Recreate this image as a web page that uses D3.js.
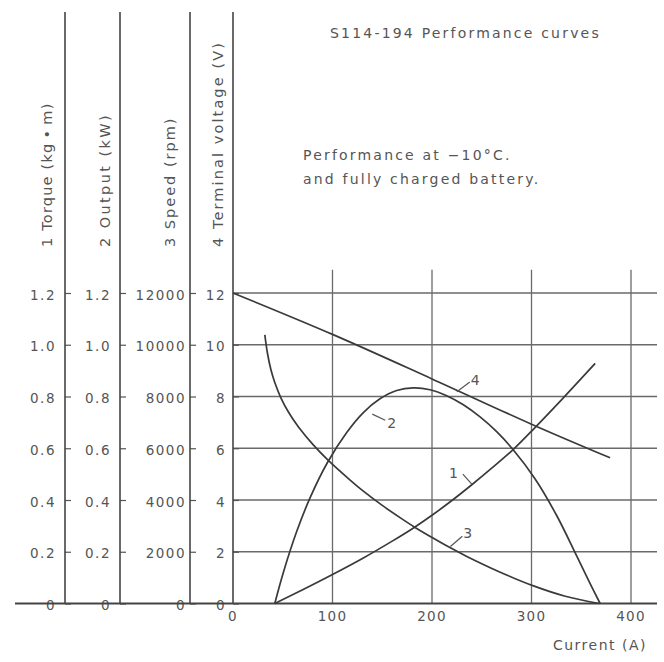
<!DOCTYPE html>
<html>
<head>
<meta charset="utf-8">
<script src="https://cdn.jsdelivr.net/npm/d3@7"></script>
<style>
  body { margin: 0; background: #fff; }
  svg text { font-family: 'DejaVu Sans', sans-serif; fill: #555; }
</style>
</head>
<body>
<svg id="chart" width="664" height="662"></svg>
<script>
// ========= Data ========= //
const currentTicks = [0, 100, 200, 300, 400];
const torqueTicks = [0, 0.2, 0.4, 0.6, 0.8, 1.0, 1.2];
const outputTicks = [0, 0.2, 0.4, 0.6, 0.8, 1.0, 1.2];
const speedTicks = [0, 2000, 4000, 6000, 8000, 10000, 12000];
const voltageTicks = [0, 2, 4, 6, 8, 10, 12];

// [current (A), value]
const torqueCurve = [[42, 0], [70, 0.053], [100, 0.112], [131, 0.176], [160, 0.241], [181, 0.291],
  [200, 0.341], [220, 0.398], [240, 0.459], [260, 0.523], [281, 0.593], [303.5, 0.68],
  [332, 0.795], [364, 0.928]];
const outputCurve = [[42, 0], [50.6, 0.12], [64, 0.278], [77.4, 0.408], [94.8, 0.544], [114.3, 0.661],
  [131, 0.738], [147.7, 0.791], [164.5, 0.823], [181.2, 0.833], [198, 0.826], [214.8, 0.803],
  [231.5, 0.768], [248, 0.722], [265, 0.664], [281, 0.597], [303.5, 0.482], [325.3, 0.34],
  [345.4, 0.184], [358.8, 0.078], [369, 0]];
const speedCurve = [[32, 10380], [34.5, 9700], [38, 9050], [42, 8540], [48, 7960], [56, 7380],
  [66, 6810], [80, 6160], [95, 5560], [118, 4760], [131, 4340], [150, 3790], [169, 3290],
  [183, 2940], [201, 2530], [218, 2160], [235, 1820], [268, 1220], [302, 680], [334, 280], [368, 0]];
const voltageCurve = [[0, 12], [100, 10.4], [200, 8.68], [300, 6.93], [379, 5.63]];

// callouts in current (A) / grid units (0-12)
const callouts = [
  { text: '4', from: [225, 8.18], to: [238, 8.56], at: [243.5, 8.45] },
  { text: '2', from: [140, 7.32], to: [153, 7.08], at: [159.5, 6.8] },
  { text: '1', from: [240, 4.61], to: [231, 5.0], at: [221.5, 4.85] },
  { text: '3', from: [218.5, 2.2], to: [230.5, 2.6], at: [236, 2.55] }
];

const svg = d3.select('#chart');

// ========= Scales ========= //
const x = d3.scaleLinear().domain([0, 400]).range([233, 631]);
const yRange = [603.5, 293];
const yGrid = d3.scaleLinear().domain([0, 12]).range(yRange);
const yTorque = d3.scaleLinear().domain([0, 1.2]).range(yRange);
const yOutput = d3.scaleLinear().domain([0, 1.2]).range(yRange);
const ySpeed = d3.scaleLinear().domain([0, 12000]).range(yRange);
const yVolt = d3.scaleLinear().domain([0, 12]).range(yRange);

// ========= Grid ========= //
const grid = svg.append('g').attr('stroke', '#6a6a6a').attr('stroke-width', 1.3);
grid.selectAll('.hgrid')
  .data(voltageTicks.slice(1))
  .join('line')
    .attr('x1', x(0)).attr('x2', 657)
    .attr('y1', d => yVolt(d)).attr('y2', d => yVolt(d));
grid.selectAll('.vgrid')
  .data(currentTicks.slice(1))
  .join('line')
    .attr('x1', d => x(d)).attr('x2', d => x(d))
    .attr('y1', yGrid(0)).attr('y2', yGrid(12.9));

// ========= Left axes ========= //
const decimal = d => d === 0 ? '0' : d3.format('.1f')(d);
const axes = [
  { scale: yTorque, ticks: torqueTicks, xPos: 65, pad: 9, fmt: decimal,
    label: '1 Torque (kg\u2009\u2022\u2009m)', lx: 52, ls: 1.2 },
  { scale: yOutput, ticks: outputTicks, xPos: 120, pad: 9, fmt: decimal,
    label: '2 Output (kW)', lx: 110, ls: 2.4 },
  { scale: ySpeed, ticks: speedTicks, xPos: 190, pad: 4, fmt: d => String(d),
    label: '3 Speed (rpm)', lx: 175, ls: 2 },
  { scale: yVolt, ticks: voltageTicks, xPos: x(0), pad: 7, fmt: d => String(d),
    label: '4 Terminal voltage (V)', lx: 223, ls: 2.1 }
];

axes.forEach(a => {
  const g = svg.append('g').attr('transform', `translate(${a.xPos},0)`);
  g.call(d3.axisLeft(a.scale).tickValues(a.ticks).tickFormat(a.fmt)
    .tickSizeInner(-6).tickSizeOuter(0).tickPadding(a.pad));
  g.select('.domain').remove();
  g.selectAll('.tick line').attr('stroke', '#555').attr('stroke-width', 1.2);
  g.selectAll('.tick text')
    .attr('font-size', 13.5).attr('letter-spacing', 1.5)
    .attr('font-family', 'DejaVu Sans').attr('fill', '#555')
    .attr('dy', '0.45em');
  svg.append('line')
    .attr('x1', a.xPos).attr('x2', a.xPos)
    .attr('y1', 12).attr('y2', yRange[0])
    .attr('stroke', '#444').attr('stroke-width', 1.6);
  svg.append('text')
    .attr('transform', `translate(${a.lx},247) rotate(-90)`)
    .attr('font-size', 14.5).attr('letter-spacing', a.ls)
    .text(a.label);
});

// baseline
svg.append('line')
  .attr('x1', 15).attr('x2', 657)
  .attr('y1', yRange[0]).attr('y2', yRange[0])
  .attr('stroke', '#444').attr('stroke-width', 1.8);

// ========= X axis labels ========= //
svg.append('g')
  .selectAll('text')
  .data(currentTicks)
  .join('text')
    .attr('x', d => x(d))
    .attr('y', 621)
    .attr('text-anchor', 'middle')
    .attr('font-size', 13.5).attr('letter-spacing', 1.2)
    .text(d => d);

svg.append('text')
  .attr('x', 647).attr('y', 650)
  .attr('text-anchor', 'end')
  .attr('font-size', 14).attr('letter-spacing', 1.5)
  .text('Current (A)');

// ========= Curves ========= //
const curves = [
  { data: torqueCurve, y: yTorque },
  { data: outputCurve, y: yOutput },
  { data: speedCurve, y: ySpeed },
  { data: voltageCurve, y: yVolt }
];
curves.forEach(c => {
  const line = d3.line()
    .x(d => x(d[0]))
    .y(d => c.y(d[1]))
    .curve(d3.curveCatmullRom.alpha(0.5));
  svg.append('path')
    .attr('d', line(c.data))
    .attr('fill', 'none')
    .attr('stroke', '#3a3a3a')
    .attr('stroke-width', 1.7);
});

// ========= Callouts ========= //
const co = svg.append('g').attr('class', 'callouts');
co.selectAll('line')
  .data(callouts)
  .join('line')
    .attr('x1', d => x(d.from[0])).attr('y1', d => yGrid(d.from[1]))
    .attr('x2', d => x(d.to[0])).attr('y2', d => yGrid(d.to[1]))
    .attr('stroke', '#555').attr('stroke-width', 1.2);
co.selectAll('text')
  .data(callouts)
  .join('text')
    .attr('x', d => x(d.at[0])).attr('y', d => yGrid(d.at[1]))
    .attr('text-anchor', 'middle')
    .attr('font-size', 14)
    .text(d => d.text);

// ========= Titles ========= //
svg.append('text')
  .attr('x', 330).attr('y', 38)
  .attr('font-size', 14).attr('letter-spacing', 2.2)
  .text('S114-194 Performance curves');
svg.append('text')
  .attr('x', 303).attr('y', 160)
  .attr('font-size', 14).attr('letter-spacing', 2.2)
  .text('Performance at \u221210\u00b0C.');
svg.append('text')
  .attr('x', 303).attr('y', 184)
  .attr('font-size', 14).attr('letter-spacing', 2.2)
  .text('and fully charged battery.');
</script>
</body>
</html>
